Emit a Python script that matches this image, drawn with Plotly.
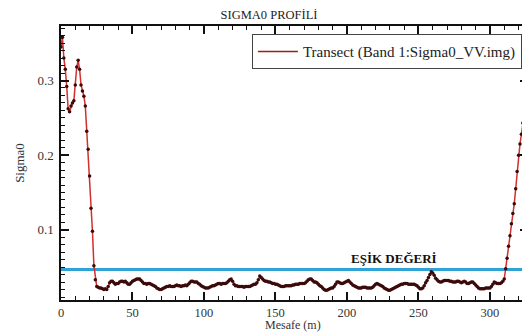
import plotly.graph_objects as go

# Distance along transect (m), 1 m spacing
distance_m = list(range(0, 327))

sigma0 = [
    0.345, 0.358, 0.330, 0.315, 0.292, 0.262, 0.258, 0.266, 0.270, 0.273,
    0.294, 0.318, 0.327, 0.315, 0.294, 0.286, 0.279, 0.266, 0.232, 0.208,
    0.172, 0.129, 0.098, 0.052, 0.033, 0.024, 0.023, 0.022, 0.022, 0.021,
    0.020, 0.021, 0.020, 0.024, 0.029, 0.031, 0.031, 0.029, 0.027, 0.028,
    0.028, 0.030, 0.031, 0.031, 0.030, 0.031, 0.029, 0.027, 0.027, 0.029,
    0.031, 0.032, 0.033, 0.034, 0.034, 0.034, 0.032, 0.030, 0.028, 0.028,
    0.027, 0.028, 0.028, 0.027, 0.026, 0.025, 0.024, 0.022, 0.021, 0.020,
    0.020, 0.021, 0.022, 0.023, 0.024, 0.024, 0.025, 0.024, 0.024, 0.024,
    0.025, 0.026, 0.025, 0.025, 0.024, 0.025, 0.025, 0.026, 0.025, 0.027,
    0.029, 0.031, 0.031, 0.030, 0.030, 0.030, 0.028, 0.027, 0.025, 0.024,
    0.023, 0.022, 0.022, 0.022, 0.023, 0.024, 0.025, 0.025, 0.026, 0.027,
    0.028, 0.028, 0.027, 0.028, 0.028, 0.028, 0.029, 0.031, 0.033, 0.034,
    0.031, 0.027, 0.025, 0.025, 0.024, 0.024, 0.024, 0.024, 0.023, 0.024,
    0.024, 0.024, 0.024, 0.025, 0.026, 0.027, 0.027, 0.029, 0.033, 0.038,
    0.036, 0.034, 0.032, 0.031, 0.031, 0.030, 0.030, 0.029, 0.028, 0.028,
    0.027, 0.027, 0.026, 0.025, 0.024, 0.024, 0.024, 0.025, 0.025, 0.025,
    0.025, 0.025, 0.026, 0.026, 0.027, 0.027, 0.027, 0.028, 0.028, 0.028,
    0.028, 0.029, 0.031, 0.033, 0.034, 0.034, 0.032, 0.030, 0.030, 0.029,
    0.027, 0.025, 0.024, 0.022, 0.020, 0.019, 0.019, 0.020, 0.021, 0.022,
    0.022, 0.024, 0.027, 0.030, 0.030, 0.029, 0.028, 0.028, 0.029, 0.030,
    0.031, 0.032, 0.030, 0.028, 0.026, 0.025, 0.024, 0.023, 0.022, 0.022,
    0.022, 0.023, 0.023, 0.023, 0.022, 0.022, 0.022, 0.022, 0.023, 0.025,
    0.027, 0.028, 0.027, 0.026, 0.025, 0.024, 0.022, 0.021, 0.020, 0.019,
    0.019, 0.020, 0.021, 0.022, 0.023, 0.024, 0.025, 0.026, 0.027, 0.027,
    0.028, 0.028, 0.028, 0.027, 0.027, 0.027, 0.027, 0.027, 0.026, 0.025,
    0.023, 0.021, 0.021, 0.022, 0.025, 0.029, 0.032, 0.036, 0.040, 0.044,
    0.042, 0.039, 0.035, 0.033, 0.031, 0.030, 0.030, 0.031, 0.032, 0.032,
    0.032, 0.032, 0.031, 0.031, 0.030, 0.030, 0.030, 0.031, 0.031, 0.030,
    0.029, 0.030, 0.031, 0.030, 0.028, 0.028, 0.029, 0.030, 0.030, 0.028,
    0.026, 0.024, 0.022, 0.021, 0.021, 0.021, 0.021, 0.022, 0.022, 0.022,
    0.022, 0.024, 0.027, 0.030, 0.029, 0.028, 0.028, 0.028, 0.029, 0.031,
    0.034, 0.048, 0.062, 0.078, 0.092, 0.108, 0.122, 0.135, 0.155, 0.178,
    0.200, 0.215, 0.228, 0.243, 0.255, 0.262, 0.268,
]

threshold = 0.0467
threshold_label = "EŞİK DEĞERİ"
title_text = "SIGMA0 PROFİLİ"
series_name = "Transect (Band 1:Sigma0_VV.img)"
x_title = "Mesafe (m)"
y_title = "Sigma0"
x_range = [0, 326.6]
y_range = [0.006, 0.373]

FONT = "Liberation Serif, Times New Roman, serif"
LINE_RED = "#d2302c"
DOT = "#3c0a0a"
BLUE = "#2fa3d6"

fig = go.Figure()

# threshold line
fig.add_trace(go.Scatter(
    x=x_range, y=[threshold, threshold], mode="lines",
    line=dict(color=BLUE, width=3), showlegend=False, hoverinfo="skip",
))

# profile
fig.add_trace(go.Scatter(
    x=distance_m, y=sigma0, mode="lines+markers",
    line=dict(color=LINE_RED, width=1.5),
    marker=dict(color=DOT, size=3.5),
    showlegend=False, cliponaxis=True,
))

# legend-only entry (line sample only)
fig.add_trace(go.Scatter(
    x=[None], y=[None], mode="lines", name=series_name,
    line=dict(color="#a01c1c", width=1.5),
))

fig.add_annotation(
    x=233, y=threshold, xref="x", yref="y", yanchor="bottom", yshift=2,
    text="<b>" + threshold_label + "</b>", showarrow=False,
    font=dict(family=FONT, size=13, color="#111111"),
)

# x-axis title as annotation below the tick labels
fig.add_annotation(
    x=0.497, y=-0.062, xref="paper", yref="paper", xanchor="center", yanchor="top",
    text=x_title, showarrow=False, borderpad=0,
    font=dict(family=FONT, size=12, color="#333333"),
)

axis_common = dict(
    showline=True, linecolor="#111111", linewidth=1.5, mirror="ticks",
    ticks="inside", ticklen=8, tickwidth=1.5, tickcolor="#111111",
    showgrid=False, zeroline=False,
)

fig.update_xaxes(
    range=x_range, dtick=50, tick0=0,
    minor=dict(dtick=10, ticks="inside", ticklen=4, tickwidth=1.2, tickcolor="#111111"),
    ticklabelstandoff=0,
    tickfont=dict(family=FONT, size=12.5, color="#333333"),
    **axis_common,
)
fig.update_yaxes(
    range=y_range, dtick=0.1, tick0=0,
    minor=dict(dtick=0.01, ticks="inside", ticklen=4, tickwidth=1.2, tickcolor="#111111"),
    title=dict(text=y_title, font=dict(family=FONT, size=13, color="#333333"), standoff=10),
    ticklabelstandoff=3,
    tickfont=dict(family=FONT, size=13, color="#333333"),
    **axis_common,
)

# the page adds an 8 px body margin, so the figure is 8 px smaller each way
fig.update_layout(
    width=522, height=325,
    margin=dict(l=53, r=2, t=18, b=33, autoexpand=False),
    paper_bgcolor="white", plot_bgcolor="white",
    title=dict(text=title_text, x=0.5, xanchor="center", y=0.98, yanchor="middle",
               font=dict(family=FONT, size=12.5, color="#222222")),
    legend=dict(
        x=0.987, xanchor="right", y=0.97, yanchor="top",
        bgcolor="white", bordercolor="#444444", borderwidth=1,
        font=dict(family=FONT, size=15, color="#222222"),
        itemwidth=40,
    ),
    showlegend=True,
)

fig.write_html("out.html")
